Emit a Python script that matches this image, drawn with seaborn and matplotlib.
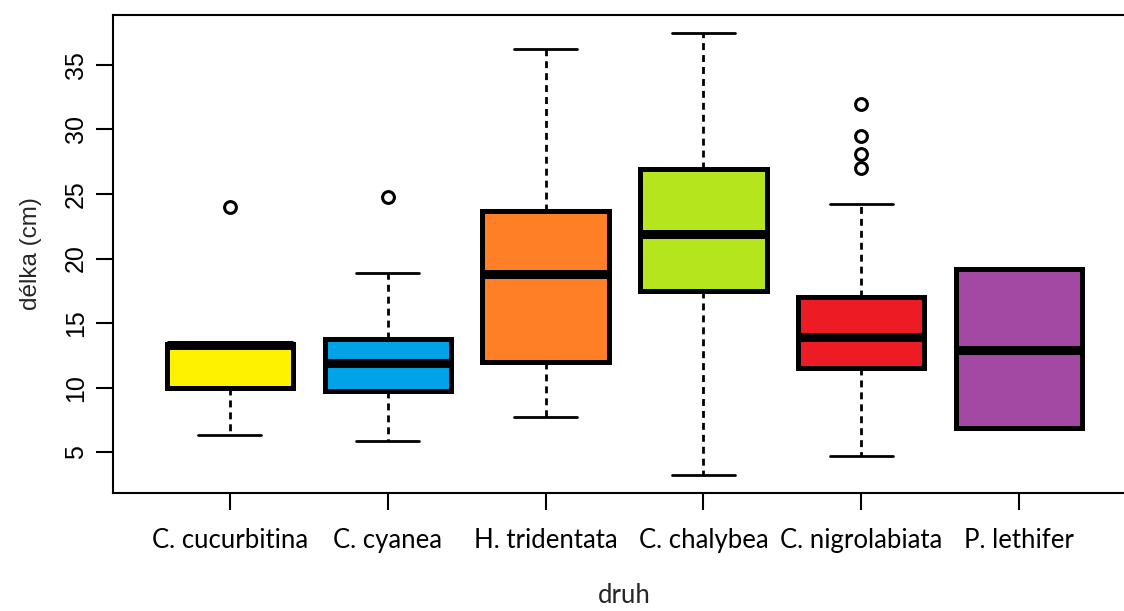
import matplotlib
matplotlib.use("Agg")
import matplotlib.pyplot as plt
import seaborn as sns

# Summary statistics per species (cm)
species = ["C. cucurbitina", "C. cyanea", "H. tridentata",
           "C. chalybea", "C. nigrolabiata", "P. lethifer"]
whisker_low = [6.3, 5.85, 7.7, 3.2, 4.7, 6.9]
q1 = [10.0, 9.7, 11.95, 17.5, 11.5, 6.9]
median = [13.3, 11.9, 18.8, 21.9, 13.9, 12.9]
q3 = [13.4, 13.75, 23.65, 26.9, 17.0, 19.2]
whisker_high = [13.4, 18.9, 36.2, 37.5, 24.2, 19.2]
outliers = [[24.0], [24.8], [], [], [32.0, 29.5, 28.1, 27.0], []]
colors = ["#FFF200", "#00A2E8", "#FF7F27", "#B5E61D", "#ED1C24", "#A349A4"]

sns.set_theme(style="ticks")
plt.rcParams["font.family"] = ["Liberation Sans", "DejaVu Sans"]
label_font = ["Lato", "Liberation Sans", "DejaVu Sans"]

fig = plt.figure(figsize=(11.24, 6.11), dpi=100)
ax = fig.add_axes([0.1005, 0.193, 0.9102, 0.7825])

stats = []
for i, name in enumerate(species):
    stats.append(dict(label=name, whislo=whisker_low[i], q1=q1[i], med=median[i],
                      q3=q3[i], whishi=whisker_high[i], fliers=outliers[i]))

positions = list(range(1, len(species) + 1))
bp = ax.bxp(
    stats, positions=positions, widths=0.8, patch_artist=True,
    boxprops=dict(linewidth=3.6, edgecolor="black"),
    medianprops=dict(linewidth=6.5, color="black", solid_capstyle="butt"),
    whiskerprops=dict(linewidth=2.0, color="black", linestyle=(0, (2.5, 1.8))),
    capprops=dict(linewidth=2.0, color="black"),
    flierprops=dict(marker="o", markersize=8.5, markerfacecolor="none",
                    markeredgecolor="black", markeredgewidth=2.2),
    capwidths=0.4,
)
for patch, c in zip(bp["boxes"], colors):
    patch.set_facecolor(c)
    patch.set_zorder(2)
for ln in bp["medians"]:
    ln.set_zorder(3)

ax.set_xlim(0.26, 6.74)
ax.set_ylim(1.83, 38.87)
ax.set_yticks([5, 10, 15, 20, 25, 30, 35])
ax.set_yticklabels(["5", "10", "15", "20", "25", "30", "35"],
                   rotation=90, va="center", fontsize=18)
ax.set_xticks(positions)
ax.set_xticklabels(species, fontsize=18.5, family=label_font)
ax.tick_params(axis="y", length=12, width=1.5, pad=6, colors="black")
ax.tick_params(axis="x", length=12, width=1.5, pad=13, colors="black")

for side in ["left", "bottom", "top", "right"]:
    ax.spines[side].set_visible(True)
    ax.spines[side].set_linewidth(1.5)
    ax.spines[side].set_color("black")

ax.set_ylabel("délka (cm)", fontsize=17.5, labelpad=16)
ax.set_xlabel("druh", fontsize=18.5, labelpad=22, family=label_font)
ax.grid(False)
ax.set_facecolor("white")

fig.savefig("out.png", dpi=100, facecolor="white")
